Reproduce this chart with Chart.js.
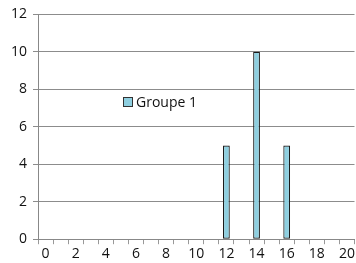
<!DOCTYPE html>
<html>
<head>
<meta charset="utf-8">
<script src="https://cdn.jsdelivr.net/npm/chart.js@4/dist/chart.umd.min.js"></script>
<style>
  html, body { margin: 0; padding: 0; background: #fff; }
  #wrap { position: relative; width: 356px; height: 263px; }
  #legend {
    position: absolute; left: 123px; top: 92px;
    font: 14px "Open Sans", "Liberation Sans", sans-serif; color: #111;
    display: flex; align-items: center;
  }
  #legend span.box {
    display: inline-block; width: 8px; height: 8px; margin-right: 3px;
    background: #8ecfe0; border: 1px solid #333;
  }
</style>
</head>
<body>
<div id="wrap">
  <canvas id="chart" width="356" height="263"></canvas>
  <div id="legend"><span class="box"></span>Groupe 1</div>
</div>
<script>
const categories = ['0','1','2','3','4','5','6','7','8','9','10','11','12','13','14','15','16','17','18','19','20'];
const groupe1 = [null,null,null,null,null,null,null,null,null,null,null,null,5,null,10,null,5,null,null,null,null];
const seriesName = 'Groupe 1';

const ctx = document.getElementById('chart').getContext('2d');
new Chart(ctx, {
  type: 'bar',
  data: {
    labels: categories,
    datasets: [{
      label: seriesName,
      data: groupe1,
      backgroundColor: '#8ecfe0',
      borderColor: '#1a1a1a',
      borderWidth: 1.2,
      borderSkipped: false,
      barPercentage: 0.45,
      categoryPercentage: 1
    }]
  },
  options: {
    responsive: false,
    animation: false,
    layout: { padding: { top: 6, right: 1, left: 5, bottom: 0 } },
    plugins: { legend: { display: false }, tooltip: { enabled: false } },
    scales: {
      x: {
        grid: { drawOnChartArea: false, drawTicks: true, tickLength: 5, color: '#999' },
        border: { color: '#888' },
        ticks: {
          autoSkip: false, maxRotation: 0, color: '#111', padding: 1,
          font: { family: 'Open Sans', size: 14 },
          callback: function (v, i) { return i % 2 === 0 ? categories[i] : ''; }
        }
      },
      y: {
        min: 0, max: 12,
        grid: { color: '#8c8c8c', tickLength: 5 },
        border: { color: '#888' },
        ticks: {
          stepSize: 2, color: '#111', padding: 6,
          font: { family: 'Open Sans', size: 14 }
        }
      }
    }
  }
});
</script>
</body>
</html>
